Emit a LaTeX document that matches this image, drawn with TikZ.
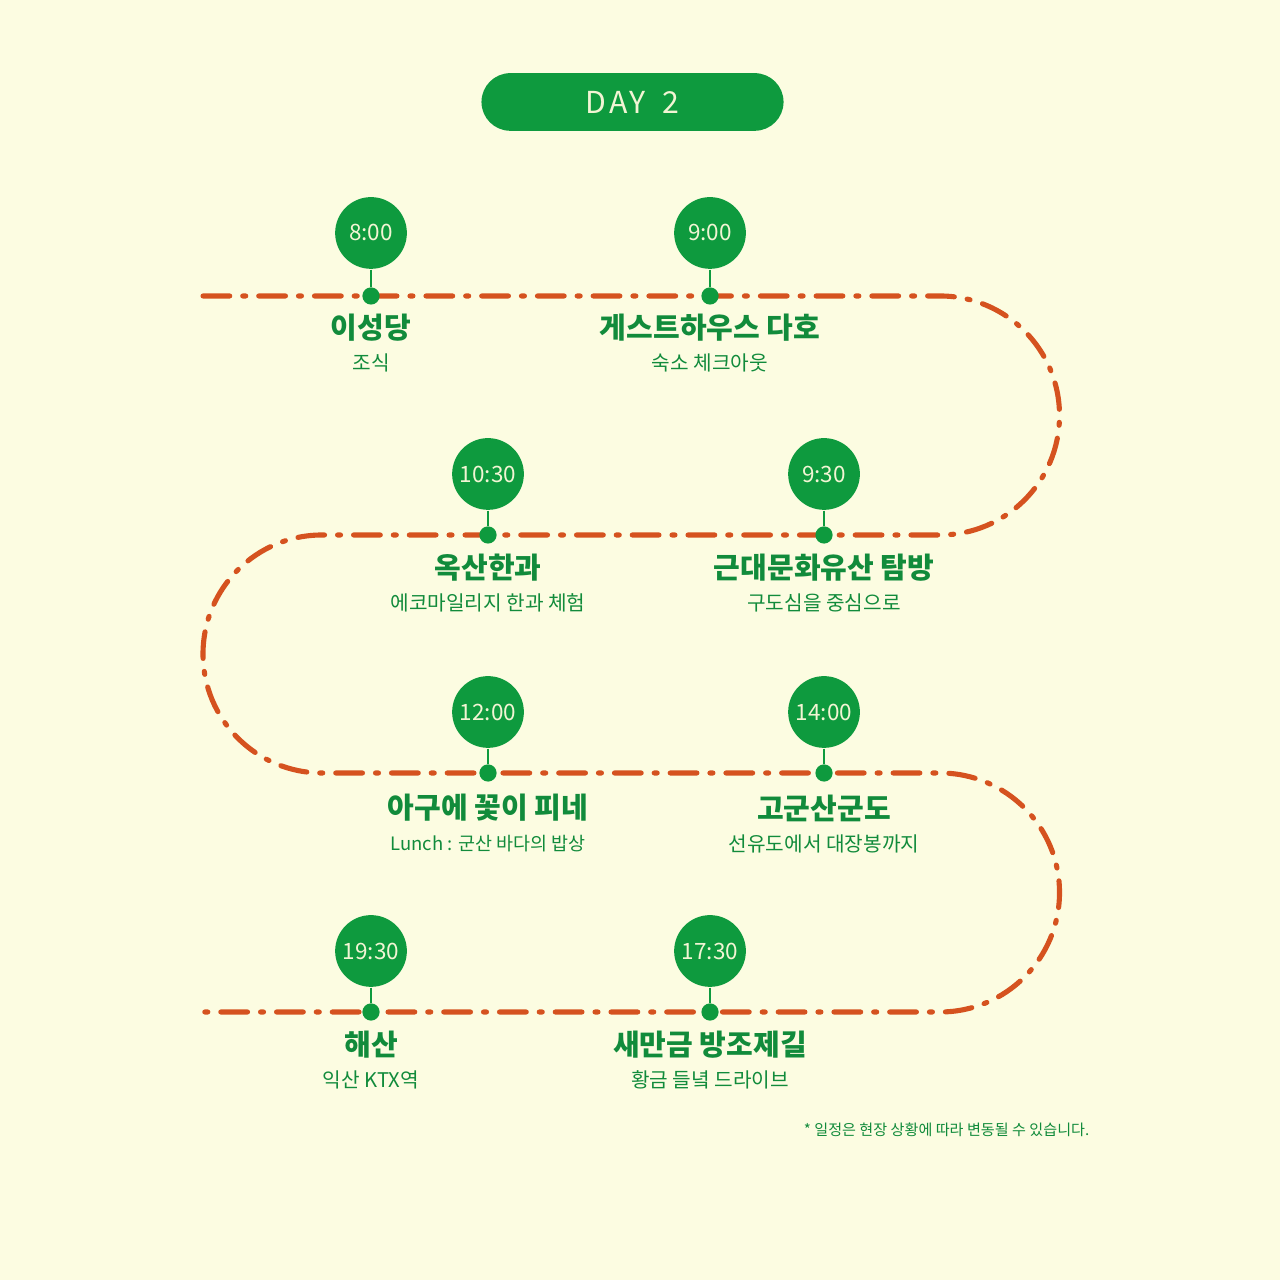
\documentclass[tikz,border=0pt]{standalone}
\usepackage{fontspec}
\setmainfont{Noto Sans CJK KR}
\usetikzlibrary{positioning}
\definecolor{bg}{HTML}{FCFCE1}
\definecolor{leaf}{HTML}{0E9A3E}
\definecolor{ink}{HTML}{118B3B}
\definecolor{rust}{HTML}{D5521F}
\definecolor{cream}{HTML}{F2F5D4}

\begin{document}
\begin{tikzpicture}[
  x=0.01cm, y=0.01cm,
  daypill/.style={rounded corners=8.2pt, fill=leaf, minimum width=85.9pt,
                  minimum height=16.4pt, inner sep=0pt, text=cream,
                  font=\fontsize{8.6}{10}\selectfont\addfontfeature{LetterSpace=9}},
  bubble/.style={circle, fill=leaf, minimum size=20.4pt, inner sep=0pt,
                 text=cream, font=\fontsize{6.4}{8}\selectfont},
  stopdot/.style={circle, fill=leaf, minimum size=4.9pt, inner sep=0pt},
  stem/.style={leaf, line width=0.6pt},
  route/.style={rust, line width=1.45pt, line cap=round,
                dash pattern=on 7.6pt off 3.7pt on 0.85pt off 3.7pt},
  place/.style={font=\fontsize{8.25}{10}\selectfont\bfseries, text=ink},
  sub/.style={font=\fontsize{5.75}{7}\selectfont, text=ink},
  note/.style={font=\fontsize{4.3}{5}\selectfont, text=ink, anchor=east, inner sep=0pt},
]
\fill[bg] (0,0) rectangle (1280,1280);
\useasboundingbox (0,0) rectangle (1280,1280);

% --- route ---
\coordinate (a0) at (203,984);
\coordinate (a1) at (940,984);
\coordinate (b1) at (322,745);
\coordinate (c1) at (940,507);
\coordinate (d0) at (203,268);
\draw[route] (a0) -- (a1) arc[start angle=90, end angle=-90, radius=119.5]
  -- (b1) arc[start angle=90, end angle=270, radius=119]
  -- (c1) arc[start angle=90, end angle=-90, radius=119.5] -- (d0);

% --- title ---
\node[daypill] (day) at (632.5,1178) {DAY\hspace{2pt} 2};

% --- row 1 ---
\node[bubble] (t1) at (371,1047) {8:00};
\node[stopdot] (s1) at (371,984) {};
\draw[stem] (t1) -- (s1);
\node[place] (p1) at (371,952) {이성당};
\node[sub] (q1) at (371,917) {조식};

\node[bubble] (t2) at (710,1047) {9:00};
\node[stopdot] (s2) at (710,984) {};
\draw[stem] (t2) -- (s2);
\node[place] (p2) at (710,952) {게스트하우스 다호};
\node[sub] (q2) at (710,917) {숙소 체크아웃};

% --- row 2 ---
\node[bubble] (t3) at (824,806) {9:30};
\node[stopdot] (s3) at (824,745) {};
\draw[stem] (t3) -- (s3);
\node[place] (p3) at (824,712) {근대문화유산 탐방};
\node[sub] (q3) at (824,677) {구도심을 중심으로};

\node[bubble] (t4) at (488,806) {10:30};
\node[stopdot] (s4) at (488,745) {};
\draw[stem] (t4) -- (s4);
\node[place] (p4) at (488,712) {옥산한과};
\node[sub] (q4) at (488,677) {에코마일리지 한과 체험};

% --- row 3 ---
\node[bubble] (t5) at (488,568) {12:00};
\node[stopdot] (s5) at (488,507) {};
\draw[stem] (t5) -- (s5);
\node[place] (p5) at (488,472) {아구에 꽃이 피네};
\node[sub, font=\fontsize{5.25}{7}\selectfont] (q5) at (488,436) {Lunch\hspace{1.2pt}:\hspace{1.6pt}군산 바다의 밥상};

\node[bubble] (t6) at (824,568) {14:00};
\node[stopdot] (s6) at (824,507) {};
\draw[stem] (t6) -- (s6);
\node[place] (p6) at (824,472) {고군산군도};
\node[sub] (q6) at (824,436) {선유도에서 대장봉까지};

% --- row 4 ---
\node[bubble] (t7) at (710,329) {17:30};
\node[stopdot] (s7) at (710,268) {};
\draw[stem] (t7) -- (s7);
\node[place] (p7) at (710,235) {새만금 방조제길};
\node[sub] (q7) at (710,200) {황금 들녘 드라이브};

\node[bubble] (t8) at (371,329) {19:30};
\node[stopdot] (s8) at (371,268) {};
\draw[stem] (t8) -- (s8);
\node[place] (p8) at (371,235) {해산};
\node[sub] (q8) at (371,200) {익산 KTX역};

% footnote
\node[note] (fn) at (1090,150) {* 일정은 현장 상황에 따라 변동될 수 있습니다.};

\end{tikzpicture}
\end{document}
